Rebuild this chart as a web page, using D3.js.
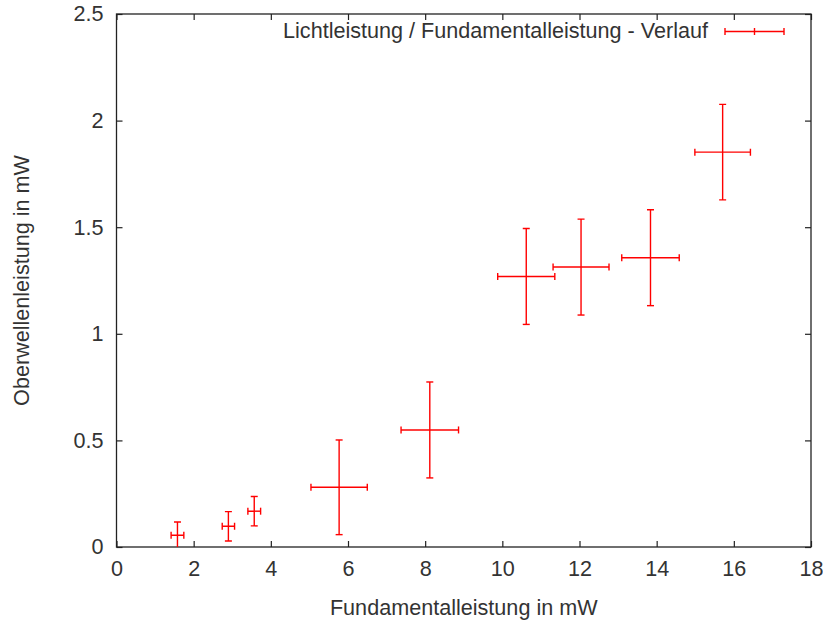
<!DOCTYPE html>
<html>
<head>
<meta charset="utf-8">
<script src="https://cdn.jsdelivr.net/npm/d3@7"></script>
<style>
  html, body { margin: 0; padding: 0; background: #fff; }
  svg { display: block; }
  text { font-family: "Liberation Sans", Arial, sans-serif; fill: #333; }
</style>
</head>
<body>
<svg id="chart" width="823" height="624"></svg>
<script>
// Messwerte: Fundamentalleistung (x) und Oberwellenleistung (y) mit Fehlern
const fundamental    = [1.58, 2.90, 3.57, 5.77, 8.12, 10.62, 12.04, 13.84, 15.71];
const fundamentalErr = [0.165, 0.16, 0.165, 0.73, 0.745, 0.74, 0.725, 0.745, 0.72];
const oberwelle      = [0.055, 0.097, 0.168, 0.28, 0.549, 1.269, 1.313, 1.357, 1.852];
const oberwelleErr   = [0.062, 0.069, 0.069, 0.222, 0.225, 0.225, 0.225, 0.225, 0.224];

const xTicks = [0, 2, 4, 6, 8, 10, 12, 14, 16, 18];
const yTicks = [0, 0.5, 1, 1.5, 2, 2.5];
const xTickLabels = ["0", "2", "4", "6", "8", "10", "12", "14", "16", "18"];
const yTickLabels = ["0", "0.5", "1", "1.5", "2", "2.5"];

const seriesName = "Lichtleistung / Fundamentalleistung - Verlauf";
const xTitle = "Fundamentalleistung in mW";
const yTitle = "Oberwellenleistung in mW";

const points = fundamental.map((f, i) => ({
  x: f, dx: fundamentalErr[i], y: oberwelle[i], dy: oberwelleErr[i]
}));

const svg = d3.select("#chart");
const plotLeft = 116.5, plotRight = 811, plotTop = 14, plotBottom = 547;
const x = d3.scaleLinear().domain([0, 18]).range([plotLeft, plotRight]);
const y = d3.scaleLinear().domain([0, 2.5]).range([plotBottom, plotTop]);

const axisColor = "#222";
const textColor = "#333";
const tickLen = 6;
const fontSize = 21.6;

// Achsen (innen liegende Ticks, gespiegelt auf allen vier Seiten)
const xAxisBottom = d3.axisBottom(x).tickValues(xTicks)
  .tickSize(-tickLen).tickPadding(14)
  .tickFormat((d, i) => xTickLabels[i]);
const xAxisTop = d3.axisTop(x).tickValues(xTicks)
  .tickSize(-tickLen).tickFormat("");
const yAxisLeft = d3.axisLeft(y).tickValues(yTicks)
  .tickSize(-tickLen).tickPadding(13)
  .tickFormat((d, i) => yTickLabels[i]);
const yAxisRight = d3.axisRight(y).tickValues(yTicks)
  .tickSize(-tickLen).tickFormat("");

function styleAxis(g) {
  g.select(".domain").remove();
  g.selectAll(".tick line").attr("stroke", axisColor).attr("stroke-width", 1.2);
  g.selectAll(".tick text")
    .style("font-family", '"Liberation Sans", Arial, sans-serif')
    .style("font-size", fontSize + "px")
    .attr("fill", textColor);
}

svg.append("g").attr("transform", `translate(0,${plotBottom})`).call(xAxisBottom).call(styleAxis);
svg.append("g").attr("transform", `translate(0,${plotTop})`).call(xAxisTop).call(styleAxis);
svg.append("g").attr("transform", `translate(${plotLeft},0)`).call(yAxisLeft).call(styleAxis);
svg.append("g").attr("transform", `translate(${plotRight},0)`).call(yAxisRight).call(styleAxis);

// Rahmen
svg.append("rect")
  .attr("x", plotLeft).attr("y", plotTop)
  .attr("width", plotRight - plotLeft).attr("height", plotBottom - plotTop)
  .attr("fill", "none").attr("stroke", axisColor).attr("stroke-width", 1.3);

// Achsentitel
svg.append("text")
  .attr("x", (plotLeft + plotRight) / 2).attr("y", 615)
  .attr("text-anchor", "middle")
  .style("font-size", fontSize + "px")
  .text(xTitle);

svg.append("text")
  .attr("transform", `translate(29,${(plotTop + plotBottom) / 2}) rotate(-90)`)
  .attr("text-anchor", "middle")
  .style("font-size", fontSize + "px")
  .text(yTitle);

// Fehlerbalken
const red = "#ff0000";
const cap = 3.5;
svg.append("clipPath").attr("id", "plotClip")
  .append("rect").attr("x", plotLeft).attr("y", plotTop)
  .attr("width", plotRight - plotLeft).attr("height", plotBottom - plotTop);

const bars = svg.append("g").attr("clip-path", "url(#plotClip)")
  .attr("stroke", red).attr("stroke-width", 1.4).attr("fill", "none")
  .selectAll("g").data(points).join("g");

// horizontal
bars.append("line")
  .attr("x1", d => x(d.x - d.dx)).attr("x2", d => x(d.x + d.dx))
  .attr("y1", d => y(d.y)).attr("y2", d => y(d.y));
bars.append("line")
  .attr("x1", d => x(d.x - d.dx)).attr("x2", d => x(d.x - d.dx))
  .attr("y1", d => y(d.y) - cap).attr("y2", d => y(d.y) + cap);
bars.append("line")
  .attr("x1", d => x(d.x + d.dx)).attr("x2", d => x(d.x + d.dx))
  .attr("y1", d => y(d.y) - cap).attr("y2", d => y(d.y) + cap);
// vertikal
bars.append("line")
  .attr("x1", d => x(d.x)).attr("x2", d => x(d.x))
  .attr("y1", d => y(d.y - d.dy)).attr("y2", d => y(d.y + d.dy));
bars.append("line")
  .attr("x1", d => x(d.x) - cap).attr("x2", d => x(d.x) + cap)
  .attr("y1", d => y(d.y + d.dy)).attr("y2", d => y(d.y + d.dy));
bars.append("line")
  .attr("x1", d => x(d.x) - cap).attr("x2", d => x(d.x) + cap)
  .attr("y1", d => y(d.y - d.dy)).attr("y2", d => y(d.y - d.dy));

// Legende
const legY = 31.5, legX1 = 725, legX2 = 784;
svg.append("text")
  .attr("x", 708).attr("y", 38)
  .attr("text-anchor", "end")
  .style("font-size", fontSize + "px")
  .text(seriesName);
const leg = svg.append("g").attr("stroke", red).attr("stroke-width", 1.4);
leg.append("line").attr("x1", legX1).attr("x2", legX2).attr("y1", legY).attr("y2", legY);
[legX1, (legX1 + legX2) / 2, legX2].forEach(px => {
  leg.append("line").attr("x1", px).attr("x2", px)
    .attr("y1", legY - cap).attr("y2", legY + cap);
});
</script>
</body>
</html>
